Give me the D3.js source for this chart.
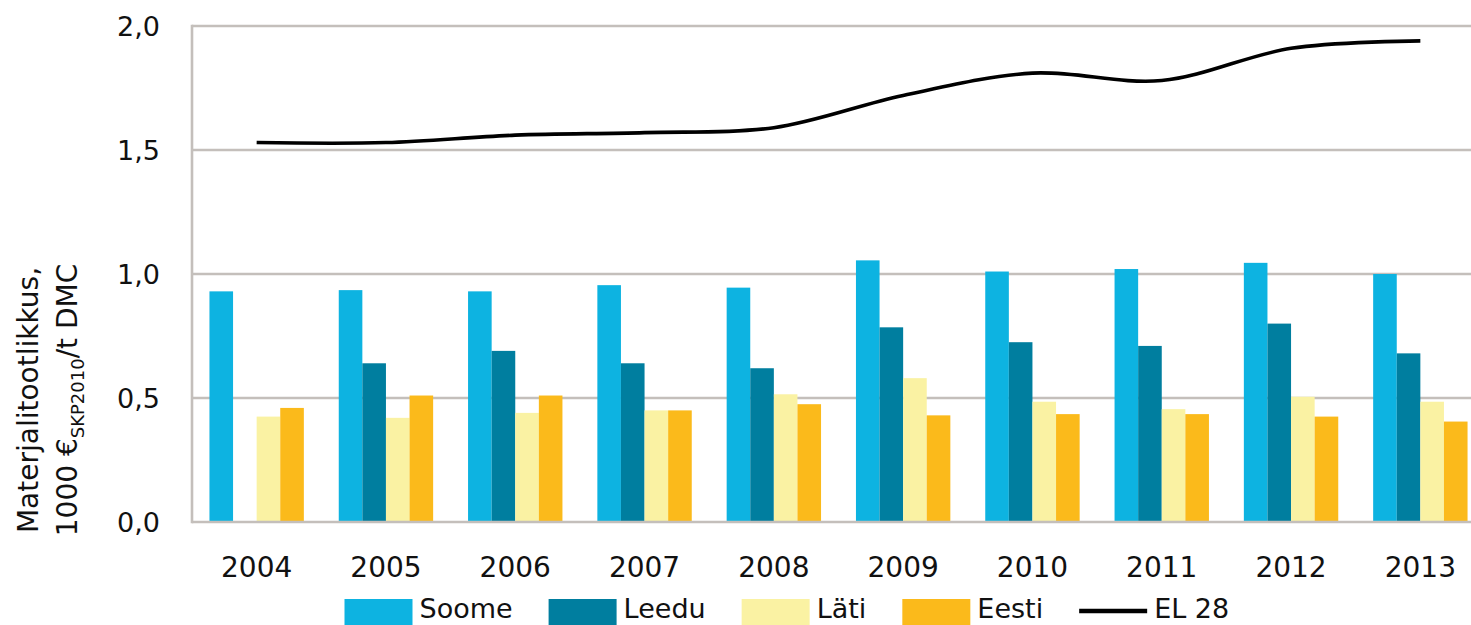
<!DOCTYPE html>
<html>
<head>
<meta charset="utf-8">
<script src="https://cdn.jsdelivr.net/npm/d3@7/dist/d3.min.js"></script>
<style>
  html, body { margin: 0; padding: 0; background: #ffffff; overflow: hidden; }
  svg { display: block; }
  text { font-family: "DejaVu Sans", Verdana, sans-serif; fill: #111111; }
</style>
</head>
<body>
<svg id="chart" width="1471" height="625"></svg>
<script>
// ---- data ----
const years = ["2004","2005","2006","2007","2008","2009","2010","2011","2012","2013"];
const soome = [0.93, 0.935, 0.93, 0.955, 0.945, 1.055, 1.01, 1.02, 1.045, 1.0];
const leedu = [null, 0.64, 0.69, 0.64, 0.62, 0.785, 0.725, 0.71, 0.80, 0.68];
const lati  = [0.425, 0.42, 0.44, 0.45, 0.515, 0.58, 0.485, 0.455, 0.505, 0.485];
const eesti = [0.46, 0.51, 0.51, 0.45, 0.475, 0.43, 0.435, 0.435, 0.425, 0.405];
const el28  = [1.53, 1.53, 1.56, 1.57, 1.59, 1.72, 1.81, 1.78, 1.91, 1.94];
const yTicks = [0, 0.5, 1.0, 1.5, 2.0];
const seriesNames = ["Soome", "Leedu", "Läti", "Eesti"];
const lineName = "EL 28";

const barSeries = [
  { name: seriesNames[0], values: soome, color: "#0db3e1" },
  { name: seriesNames[1], values: leedu, color: "#007e9f" },
  { name: seriesNames[2], values: lati,  color: "#faf2a3" },
  { name: seriesNames[3], values: eesti, color: "#fbba1b" }
];

// ---- layout ----
const svg = d3.select("#chart");
const plotLeft = 192, plotRight = 1485, plotTop = 26, plotBottom = 522;
const gridColor = "#c4bfbb";

const x = d3.scaleBand().domain(years).range([plotLeft, plotRight])
  .paddingInner(0.27).paddingOuter(0.135);
const x1 = d3.scaleBand().domain(seriesNames).range([0, x.bandwidth()]).padding(0);
const y = d3.scaleLinear().domain([0, 2]).range([plotBottom, plotTop]);

const locale = d3.formatLocale({ decimal: ",", thousands: " ", grouping: [3], currency: ["", "€"] });
const fmt = locale.format(".1f");

// gridlines
svg.append("g").selectAll("line").data(yTicks.filter(d => d > 0)).join("line")
  .attr("x1", plotLeft).attr("x2", 1471)
  .attr("y1", d => y(d)).attr("y2", d => y(d))
  .attr("stroke", gridColor).attr("stroke-width", 2.6);

// bars
const groups = svg.append("g").selectAll("g").data(barSeries).join("g")
  .attr("fill", d => d.color);
groups.selectAll("rect")
  .data(s => s.values.map((v, i) => ({ name: s.name, v, year: years[i] })).filter(d => d.v != null))
  .join("rect")
  .attr("x", d => x(d.year) + x1(d.name))
  .attr("width", x1.bandwidth())
  .attr("y", d => y(d.v))
  .attr("height", d => y(0) - y(d.v));

// baseline and left axis line
svg.append("line").attr("x1", plotLeft).attr("x2", 1471)
  .attr("y1", y(0)).attr("y2", y(0))
  .attr("stroke", gridColor).attr("stroke-width", 2.6);
svg.append("line").attr("x1", plotLeft).attr("x2", plotLeft)
  .attr("y1", y(2) - 1.3).attr("y2", y(0) + 1.3)
  .attr("stroke", gridColor).attr("stroke-width", 2.6);

// EL 28 line
const line = d3.line()
  .x((d, i) => x(years[i]) + x.bandwidth() / 2)
  .y(d => y(d))
  .curve(d3.curveCatmullRom.alpha(0.5));
svg.append("path").datum(el28)
  .attr("d", line)
  .attr("fill", "none").attr("stroke", "#000").attr("stroke-width", 3.6)
  .attr("stroke-linejoin", "round");

// y tick labels
svg.append("g").selectAll("text").data(yTicks).join("text")
  .attr("x", 160).attr("y", d => y(d) + 10)
  .attr("text-anchor", "end").attr("font-size", 27)
  .text(d => fmt(d));

// x labels
svg.append("g").selectAll("text").data(years).join("text")
  .attr("x", d => x(d) + x.bandwidth() / 2).attr("y", 577)
  .attr("text-anchor", "middle").attr("font-size", 28)
  .text(d => d);

// y axis title
svg.append("text")
  .attr("transform", "translate(38,400) rotate(-90)")
  .attr("text-anchor", "middle").attr("font-size", 28)
  .text("Materjalitootlikkus,");
const t2 = svg.append("text")
  .attr("transform", "translate(77,400) rotate(-90)")
  .attr("text-anchor", "middle").attr("font-size", 28);
t2.append("tspan").text("1000 €");
t2.append("tspan").attr("font-size", 18).attr("dy", 7).text("SKP2010");
t2.append("tspan").attr("dy", -7).text("/t DMC");

// legend
const legendItems = barSeries.map(s => ({ name: s.name, color: s.color, type: "rect" }))
  .concat([{ name: lineName, color: "#000", type: "line" }]);
const lg = svg.append("g");
let lx = 344.5;
legendItems.forEach(it => {
  if (it.type === "rect") {
    lg.append("rect").attr("x", lx).attr("y", 599).attr("width", 68).attr("height", 26)
      .attr("fill", it.color);
  } else {
    lg.append("line").attr("x1", lx).attr("x2", lx + 68).attr("y1", 611).attr("y2", 611)
      .attr("stroke", it.color).attr("stroke-width", 4.5);
  }
  const t = lg.append("text").attr("x", lx + 75).attr("y", 618)
    .attr("font-size", 27).text(it.name);
  const w = t.node().getComputedTextLength();
  lx = lx + 75 + w + 36;
});
</script>
</body>
</html>
